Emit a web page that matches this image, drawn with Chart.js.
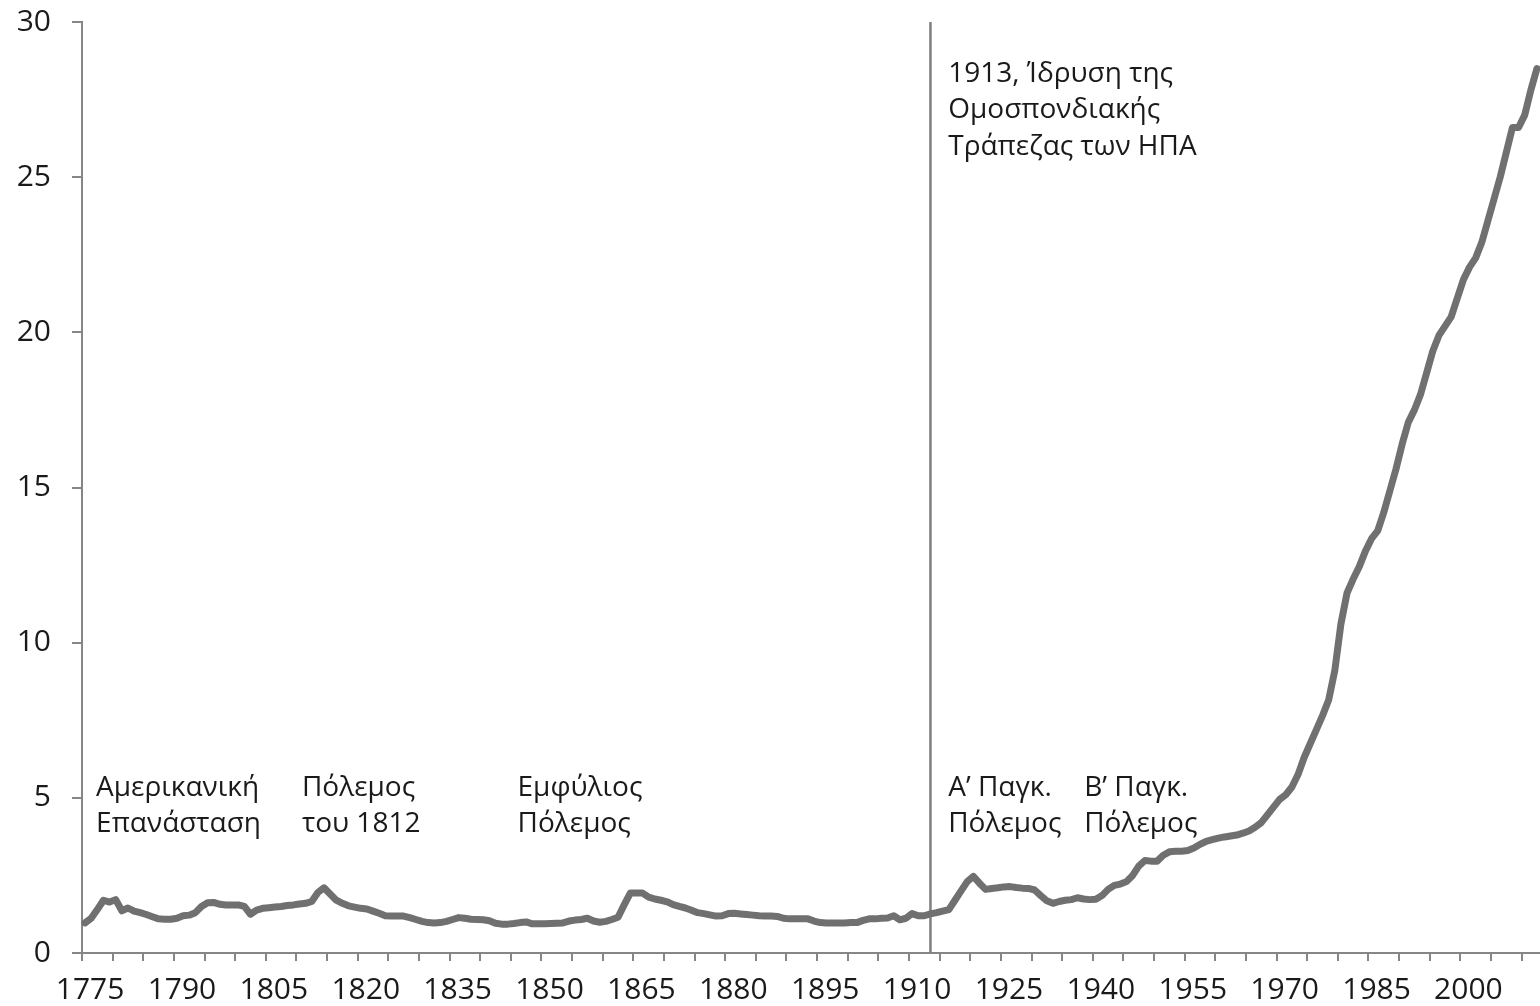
<!DOCTYPE html>
<html><head><meta charset="utf-8">
<script src="https://cdn.jsdelivr.net/npm/chart.js@4.4.1/dist/chart.umd.min.js"></script>
<style>html,body{margin:0;padding:0;background:#fff;overflow:hidden}#wrap{width:1540px;height:1006px;position:relative}</style>
</head><body><div id="wrap"><canvas id="c"></canvas></div>
<script>
// ---- data ----
const firstYear = 1775;
const lastYear = 2012;
const years = [];
for (let y = firstYear; y <= lastYear; y++) years.push(y);

const values1700s = [
  0.97, 1.12, 1.4, 1.7, 1.64,
  1.72, 1.36, 1.45, 1.35, 1.3, 1.24, 1.17, 1.1, 1.09, 1.09,
  1.12, 1.2, 1.22, 1.3, 1.5, 1.62, 1.63, 1.57, 1.55, 1.55
];
const values1800s = [
  1.55, 1.5, 1.25, 1.38, 1.44, 1.46, 1.48, 1.5, 1.53, 1.55,
  1.58, 1.6, 1.66, 1.95, 2.1, 1.9, 1.7, 1.6, 1.52, 1.48,
  1.44, 1.42, 1.35, 1.28, 1.2, 1.19, 1.19, 1.19, 1.14, 1.08,
  1.02, 0.98, 0.97, 0.98, 1.02, 1.08, 1.14, 1.12, 1.09, 1.08,
  1.07, 1.04, 0.96, 0.93, 0.93, 0.95, 0.98, 1.0, 0.94, 0.94,
  0.94, 0.95, 0.96, 0.97, 1.03, 1.06, 1.08, 1.12, 1.03, 0.99,
  1.02, 1.08, 1.15, 1.55, 1.93, 1.93, 1.93, 1.8, 1.74, 1.7,
  1.65, 1.56, 1.5, 1.45, 1.38, 1.3, 1.27, 1.23, 1.19, 1.2,
  1.27, 1.28, 1.26, 1.24, 1.22, 1.2, 1.19, 1.19, 1.18, 1.12,
  1.1, 1.1, 1.1, 1.1, 1.03, 0.98, 0.97, 0.97, 0.97, 0.97
];
const values1900s = [
  0.98, 0.98, 1.05, 1.1, 1.1, 1.12, 1.13, 1.2, 1.07, 1.12,
  1.27, 1.2, 1.2, 1.26, 1.3, 1.35, 1.4, 1.7, 2.0, 2.3,
  2.47, 2.25, 2.05, 2.08, 2.1, 2.13, 2.14, 2.11, 2.09, 2.08,
  2.03, 1.85, 1.68, 1.6, 1.66, 1.7, 1.72, 1.78, 1.74, 1.72,
  1.73, 1.85, 2.05, 2.18, 2.22, 2.3, 2.5, 2.8, 2.98, 2.96,
  2.96, 3.15, 3.26, 3.28, 3.28, 3.3, 3.38, 3.5, 3.6, 3.65,
  3.7, 3.74, 3.77, 3.8, 3.86, 3.93, 4.05, 4.2, 4.45, 4.7,
  4.95, 5.1, 5.35, 5.75, 6.3, 6.75, 7.2, 7.65, 8.15, 9.1,
  10.6, 11.6, 12.05, 12.45, 12.95, 13.35, 13.6, 14.2, 14.9, 15.6,
  16.4, 17.1, 17.5, 18.0, 18.7, 19.4, 19.9, 20.2, 20.5, 21.1
];
const values2000s = [
  21.7, 22.1, 22.4, 22.9, 23.6, 24.3, 25.0, 25.8, 26.6, 26.6,
  27.0, 27.8, 28.5
];
const priceLevel = [].concat(values1700s, values1800s, values1900s, values2000s);

const yTicks = [0, 5, 10, 15, 20, 25, 30];
const labelYears = [1775, 1790, 1805, 1820, 1835, 1850, 1865, 1880, 1895, 1910, 1925, 1940, 1955, 1970, 1985, 2000];
const fedYear = 1913;

const eventNotes = [
  { lines: ['Αμερικανική', 'Επανάσταση'], year: 1776.8, value: 5.33 },
  { lines: ['Πόλεμος', 'του 1812'], year: 1810.4, value: 5.33 },
  { lines: ['Εμφύλιος', 'Πόλεμος'], year: 1845.6, value: 5.33 },
  { lines: ['Α’ Παγκ.', 'Πόλεμος'], year: 1915.9, value: 5.33 },
  { lines: ['Β’ Παγκ.', 'Πόλεμος'], year: 1938.1, value: 5.33 },
  { lines: ['1913, Ίδρυση της', 'Ομοσπονδιακής', 'Τράπεζας των ΗΠΑ'], year: 1915.9, value: 28.33 }
];

// ---- styles ----
const FONT = '"Open Sans", "Noto Sans", sans-serif';
const FONT_SIZE = 28;
const TICK_FONT_SIZE = 30;
const TEXT_COLOR = '#1a1a1a';
const AXIS_COLOR = '#868686';
const LINE_COLOR = '#707070';

const fedLine = {
  id: 'fedLine',
  beforeDatasetsDraw(chart) {
    const x = chart.scales.x.getPixelForValue(years.indexOf(fedYear));
    const a = chart.chartArea;
    const ctx = chart.ctx;
    ctx.save();
    ctx.strokeStyle = '#7f7f7f';
    ctx.lineWidth = 2.5;
    ctx.beginPath();
    ctx.moveTo(x, a.top);
    ctx.lineTo(x, a.bottom);
    ctx.stroke();
    ctx.restore();
  }
};

const notes = {
  id: 'notes',
  afterDatasetsDraw(chart) {
    const ctx = chart.ctx;
    const xs = chart.scales.x, ys = chart.scales.y;
    ctx.save();
    ctx.font = FONT_SIZE + 'px ' + FONT;
    ctx.fillStyle = TEXT_COLOR;
    ctx.textAlign = 'left';
    ctx.textBaseline = 'middle';
    eventNotes.forEach(n => {
      const x = xs.getPixelForValue(n.year - firstYear);
      const y = ys.getPixelForValue(n.value);
      n.lines.forEach((t, i) => ctx.fillText(t, x, y + i * 36.5));
    });
    ctx.restore();
  }
};

new Chart(document.getElementById('c'), {
  type: 'line',
  data: {
    labels: years.map(String),
    datasets: [{
      data: priceLevel,
      borderColor: LINE_COLOR,
      borderWidth: 7,
      pointRadius: 0,
      tension: 0,
      borderCapStyle: 'round',
      borderJoinStyle: 'round',
      clip: false
    }]
  },
  options: {
    responsive: true,
    maintainAspectRatio: false,
    animation: false,
    layout: { padding: { top: 22, left: 0, right: 0, bottom: 0 } },
    plugins: { legend: { display: false }, tooltip: { enabled: false } },
    scales: {
      x: {
        type: 'category',
        offset: true,
        border: { color: AXIS_COLOR, width: 2 },
        grid: {
          offset: true,
          drawOnChartArea: false,
          drawTicks: true,
          tickLength: 8,
          lineWidth: 2,
          color: (ctx) => (ctx.index !== undefined && ctx.index % 5 === 0) ? AXIS_COLOR : 'rgba(0,0,0,0)'
        },
        ticks: {
          autoSkip: false,
          maxRotation: 0,
          minRotation: 0,
          padding: 11,
          labelOffset: 5,
          color: TEXT_COLOR,
          font: { family: FONT, size: TICK_FONT_SIZE },
          callback: (v, i) => labelYears.includes(years[i]) ? String(years[i]) : ''
        },
        afterFit: (s) => { s.height = 53; s.paddingLeft = 0; s.paddingRight = 0; }
      },
      y: {
        min: yTicks[0],
        max: yTicks[yTicks.length - 1],
        border: { color: AXIS_COLOR, width: 2 },
        grid: { drawOnChartArea: false, tickLength: 10, lineWidth: 2, color: AXIS_COLOR },
        afterBuildTicks: (s) => { s.ticks = yTicks.map(v => ({ value: v })); },
        ticks: {
          padding: 21,
          color: TEXT_COLOR,
          font: { family: FONT, size: TICK_FONT_SIZE }
        },
        afterFit: (s) => { s.width = 82; s.paddingTop = 0; s.paddingBottom = 0; }
      }
    }
  },
  plugins: [fedLine, notes]
});
</script>
</body></html>
